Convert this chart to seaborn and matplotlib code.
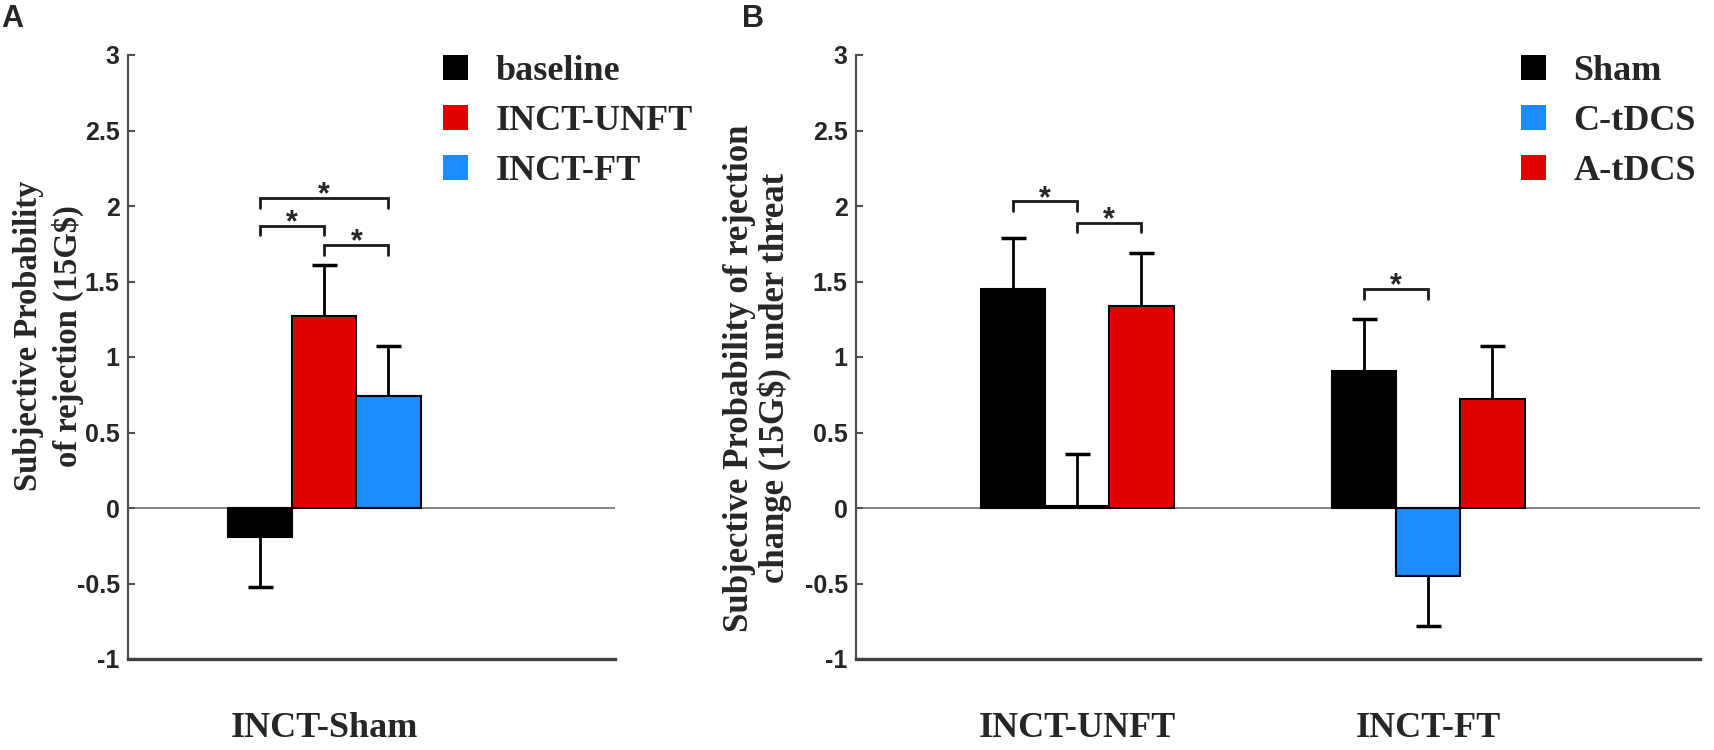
import numpy as np
import pandas as pd
import matplotlib
matplotlib.use("Agg")
import matplotlib.pyplot as plt
from matplotlib import font_manager
import seaborn as sns

# values (mean and one-sided SEM)
groups_a = ["INCT-Sham"]
conds_a = ["baseline", "INCT-UNFT", "INCT-FT"]
means_a = [-0.19, 1.27, 0.74]
sems_a = [0.33, 0.34, 0.33]

groups_b = ["INCT-UNFT", "INCT-FT"]
conds_b = ["Sham", "C-tDCS", "A-tDCS"]
means_b_unft = [1.45, 0.01, 1.34]
sems_b_unft = [0.34, 0.35, 0.35]
means_b_ft = [0.91, -0.45, 0.72]
sems_b_ft = [0.34, 0.33, 0.35]

yticks = [-1, -0.5, 0, 0.5, 1, 1.5, 2, 2.5, 3]

BLACK = "#000000"
RED = "#E00000"
BLUE = "#1E8CFF"
pal_a = {"baseline": BLACK, "INCT-UNFT": RED, "INCT-FT": BLUE}
pal_b = {"Sham": BLACK, "C-tDCS": BLUE, "A-tDCS": RED}

sns.set_style("white")
SERIF = "Liberation Serif"
SANS = "Liberation Sans"
# panel B uses narrower tick digits in the original
installed = {f.name for f in font_manager.fontManager.ttflist}
NARROW = "Liberation Sans Narrow" if "Liberation Sans Narrow" in installed else SANS

df_a = pd.DataFrame({"group": groups_a * len(conds_a),
                     "cond": conds_a, "mean": means_a, "sem": sems_a})
df_b = pd.DataFrame({"group": [groups_b[0]] * 3 + [groups_b[1]] * 3,
                     "cond": conds_b * 2,
                     "mean": means_b_unft + means_b_ft,
                     "sem": sems_b_unft + sems_b_ft})

fig = plt.figure(figsize=(17.15, 7.5), dpi=100)
ax_a = fig.add_axes([128 / 1715, 91 / 750, 487 / 1715, 604 / 750])
ax_b = fig.add_axes([856 / 1715, 91 / 750, 844 / 1715, 604 / 750])


def draw_panel(ax, df, conds, pal, tick_font):
    sns.barplot(data=df, x="group", y="mean", hue="cond", hue_order=conds,
                palette=pal, width=0.55, errorbar=None, edgecolor="black",
                linewidth=1.5, saturation=1, ax=ax, zorder=2)
    # one-sided error bars on each bar
    centers = {}
    for cond, cont in zip(conds, ax.containers):
        sub = df[df["cond"] == cond].reset_index(drop=True)
        for j, bar in enumerate(cont):
            x = bar.get_x() + bar.get_width() / 2
            m = sub.loc[j, "mean"]
            e = sub.loc[j, "sem"]
            yerr = [[0], [e]] if m >= 0 else [[e], [0]]
            eb = ax.errorbar(x, m, yerr=yerr, fmt="none", ecolor="black",
                             elinewidth=2, capsize=9, capthick=2.5, zorder=1)
            caps = eb.lines[1]
            # hide the cap sitting at the bar end
            caps[0 if m >= 0 else 1].set_visible(False)
            centers[(sub.loc[j, "group"], cond)] = x
    ax.axhline(0, color="#7a7a7a", lw=1.3, zorder=0.5)
    ax.set_ylim(-1, 3)
    ax.set_yticks(yticks)
    ax.set_yticklabels(["%g" % t for t in yticks], fontfamily=tick_font,
                       fontweight="bold", fontsize=18)
    ax.tick_params(axis="y", direction="in", length=5, width=1.5,
                   color="#505050", pad=6, left=True)
    ax.tick_params(axis="x", length=0, pad=38)
    for lab in ax.get_xticklabels():
        lab.set_fontfamily(SERIF)
        lab.set_fontweight("bold")
        lab.set_fontsize(26)
    ax.set_xlabel("")
    for s in ["top", "right"]:
        ax.spines[s].set_visible(False)
    ax.spines["left"].set_color("#505050")
    ax.spines["left"].set_linewidth(1.6)
    ax.spines["bottom"].set_color("#404040")
    ax.spines["bottom"].set_linewidth(2.4)
    return centers


def bracket(ax, x1, x2, y, drop=0.065):
    ax.plot([x1, x1, x2, x2], [y - drop, y, y, y - drop], color="#1a1a1a",
            lw=2, solid_joinstyle="miter", zorder=3)
    ax.text((x1 + x2) / 2, y - 0.035, "*", ha="center", va="baseline",
            fontsize=22, fontweight="bold", fontfamily=SANS)


def legend(ax, x, y):
    handles, labels = ax.get_legend_handles_labels()
    leg = ax.legend(handles, labels, loc="upper left", bbox_to_anchor=(x, y),
                    frameon=False, handlelength=0.7, handleheight=0.7,
                    handletextpad=0.75, labelspacing=0.46, borderpad=0,
                    borderaxespad=0,
                    prop={"family": SERIF, "weight": "bold", "size": 26})
    for h in leg.legend_handles:
        h.set_edgecolor("none")


# panel A
c_a = draw_panel(ax_a, df_a, conds_a, pal_a, SANS)
ax_a.set_xlim(-0.56, 0.83)
g = groups_a[0]
bracket(ax_a, c_a[(g, "baseline")], c_a[(g, "INCT-FT")], 2.05)
bracket(ax_a, c_a[(g, "baseline")], c_a[(g, "INCT-UNFT")], 1.87)
bracket(ax_a, c_a[(g, "INCT-UNFT")], c_a[(g, "INCT-FT")], 1.74)
ax_a.set_ylabel("Subjective Probability\nof rejection (15G$)", fontfamily=SERIF,
                fontweight="bold", fontsize=23.5, linespacing=1.3)
ax_a.yaxis.set_label_coords(-0.09, 0.535)
legend(ax_a, 0.647, 1.0)

# panel B
c_b = draw_panel(ax_b, df_b, conds_b, pal_b, NARROW)
ax_b.set_xlim(-0.63, 1.775)
u, f = groups_b
bracket(ax_b, c_b[(u, "Sham")], c_b[(u, "C-tDCS")], 2.03)
bracket(ax_b, c_b[(u, "C-tDCS")], c_b[(u, "A-tDCS")], 1.89)
bracket(ax_b, c_b[(f, "Sham")], c_b[(f, "C-tDCS")], 1.45)
ax_b.set_ylabel("Subjective Probability of rejection\nchange (15G$) under threat",
                fontfamily=SERIF, fontweight="bold", fontsize=25, linespacing=1.05)
ax_b.yaxis.set_label_coords(-0.076, 0.465)
legend(ax_b, 0.788, 1.0)

fig.text(0.001, 0.995, "A", fontsize=22, fontweight="bold", fontfamily=SANS,
         ha="left", va="top")
fig.text(742 / 1715, 0.995, "B", fontsize=22, fontweight="bold", fontfamily=SANS,
         ha="left", va="top")

fig.savefig("out.png", dpi=100)
